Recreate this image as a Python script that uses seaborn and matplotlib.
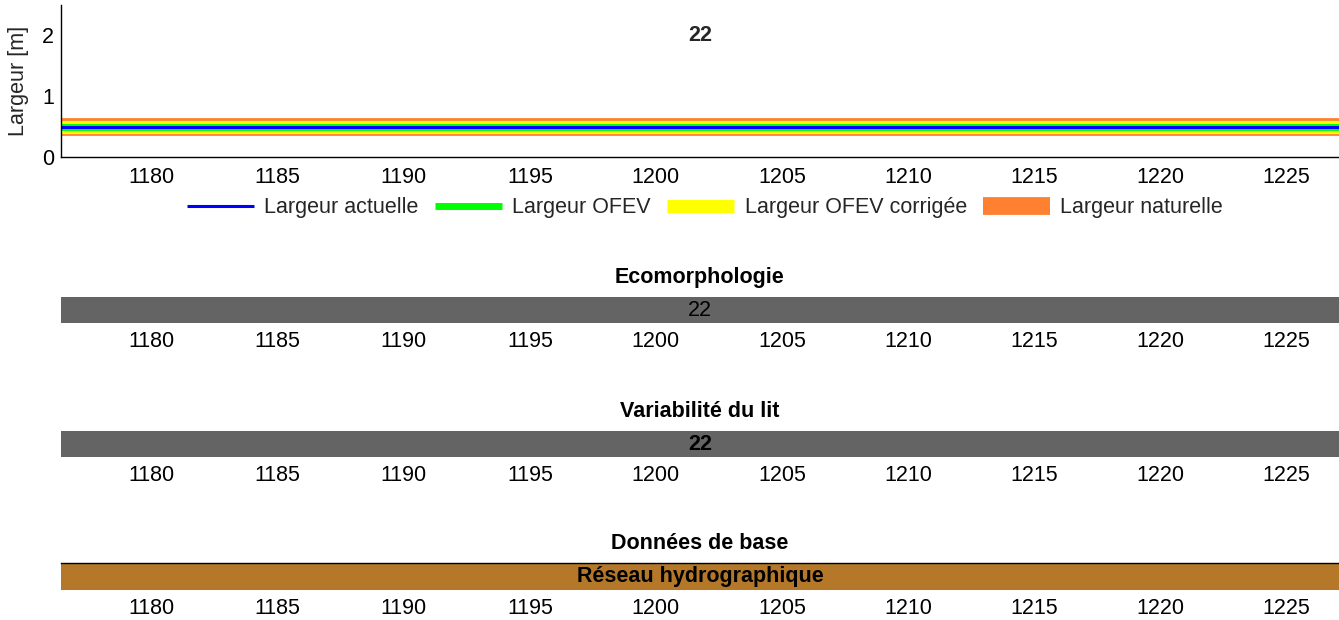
import matplotlib
matplotlib.use("Agg")
import matplotlib.pyplot as plt
import seaborn as sns
import pandas as pd

sns.set_theme(style="white")
plt.rcParams['font.family'] = ['Liberation Sans', 'DejaVu Sans']

# ---- data ----
km = [1176.4, 1227.1]
largeur_actuelle = [0.5, 0.5]
largeur_ofev = [0.5, 0.5]
largeur_ofev_corr = [0.5, 0.5]
largeur_naturelle = [0.5, 0.5]
series_names = ["Largeur actuelle", "Largeur OFEV", "Largeur OFEV corrigée", "Largeur naturelle"]
station_label = "22"
xticks = [1180, 1185, 1190, 1195, 1200, 1205, 1210, 1215, 1220, 1225]
yticks = [0, 1, 2]

eco_start = [1176.4]
eco_end = [1227.1]
eco_label = ["22"]
var_start = [1176.4]
var_end = [1227.1]
var_label = ["22"]
base_start = [1176.4]
base_end = [1227.1]
base_label = ["Réseau hydrographique"]

xlim = (1176.4, 1227.1)
FS = 15.5

W, H = 1339, 620
fig = plt.figure(figsize=(W / 100, H / 100), dpi=100)

def ax_px(left, top, bottom, right=W):
    return fig.add_axes([left / W, 1 - bottom / H, (right - left) / W, (bottom - top) / H])

# ---- top panel ----
ax = ax_px(61, 5, 157)
styles = [
    (largeur_naturelle, "#FF8030", 12.8, series_names[3]),
    (largeur_ofev_corr, "#FFFF00", 9.5, series_names[2]),
    (largeur_ofev, "#00FF00", 5.0, series_names[1]),
    (largeur_actuelle, "#0000FF", 2.2, series_names[0]),
]
handles = {}
for vals, col, lw, name in styles:
    df = pd.DataFrame({"km": km, "w": vals})
    sns.lineplot(data=df, x="km", y="w", ax=ax, color=col, linewidth=lw,
                 solid_capstyle="butt")
    handles[name] = ax.lines[-1]
ax.set_xlim(*xlim)
ax.set_ylim(0, 2.5)
ax.set_xticks(xticks)
ax.set_yticks(yticks)
ax.set_xlabel("")
ax.set_ylabel("Largeur [m]", fontsize=FS, labelpad=9)
ax.tick_params(axis="both", direction="in", labelsize=FS, colors="black")
ax.tick_params(axis="x", length=7, width=0.8, pad=7)
ax.tick_params(axis="y", length=5, width=0.8, pad=5)
for s in ["top", "right"]:
    ax.spines[s].set_visible(False)
for s in ["left", "bottom"]:
    ax.spines[s].set_color("black")
    ax.spines[s].set_linewidth(1.0)
ax.text(0.5 * (xlim[0] + xlim[1]), 2.0, station_label, ha="center", va="center",
        fontsize=FS, fontweight="bold")
fig.legend([handles[n] for n in series_names], series_names, ncol=4, frameon=False,
           loc="center", bbox_to_anchor=(705 / W, 1 - 208 / H), fontsize=FS,
           handlelength=3.1, handletextpad=0.5, columnspacing=0.75)

# ---- bar panels ----
def bar_panel(top, bottom, starts, ends, labels, color, title, bold_text, top_spine=False):
    a = ax_px(61, top, bottom)
    for s0, s1, lab in zip(starts, ends, labels):
        a.barh(0, s1 - s0, left=s0, height=1.0, color=color, edgecolor="none")
        a.text(0.5 * (s0 + s1), 0, lab, ha="center", va="center", fontsize=FS,
               fontweight="bold" if bold_text else "normal", color="black")
    a.set_xlim(*xlim)
    a.set_ylim(-0.5, 0.5)
    a.set_yticks([])
    a.set_xticks(xticks)
    a.tick_params(axis="x", length=0, pad=6, labelsize=FS, colors="black")
    for s in ["left", "right", "bottom", "top"]:
        a.spines[s].set_visible(False)
    if top_spine:
        a.spines["top"].set_visible(True)
        a.spines["top"].set_color("black")
        a.spines["top"].set_linewidth(1.0)
    a.set_title(title, fontsize=FS, fontweight="bold", pad=10, color="black")
    return a

bar_panel(297, 323, eco_start, eco_end, eco_label, "#646464", "Ecomorphologie", False)
bar_panel(431, 457, var_start, var_end, var_label, "#646464", "Variabilité du lit", True)
bar_panel(563, 590, base_start, base_end, base_label, "#B47828", "Données de base", True,
          top_spine=True)

fig.savefig("out.png", dpi=100)
